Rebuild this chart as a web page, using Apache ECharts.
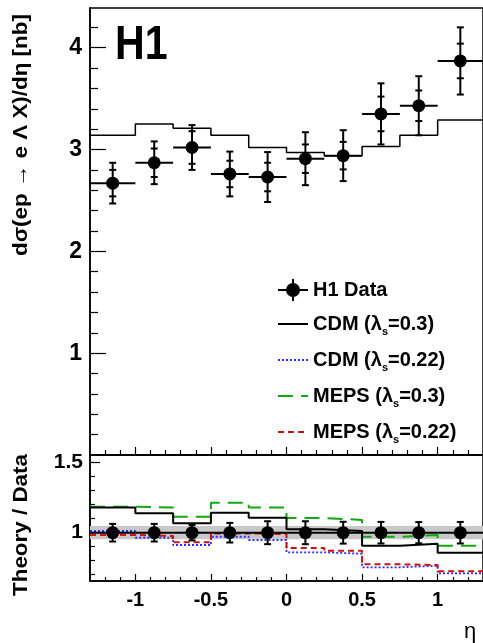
<!DOCTYPE html>
<html><head><meta charset="utf-8">
<script src="https://cdn.jsdelivr.net/npm/echarts@6/dist/echarts.min.js"></script>
<style>html,body{margin:0;padding:0;background:#fff}#c{width:483px;height:643px}</style>
</head><body><div id="c"></div>
<script>
// ---- data ----
const binLow    = [-1.3, -1.0, -0.75, -0.5, -0.25, 0, 0.25, 0.5, 0.75, 1.0];
const binHigh   = [-1.0, -0.75, -0.5, -0.25, 0, 0.25, 0.5, 0.75, 1.0, 1.3];
const etaCenter = [-1.15, -0.875, -0.625, -0.375, -0.125, 0.125, 0.375, 0.625, 0.875, 1.15];
const xsec      = [2.67, 2.87, 3.02, 2.76, 2.73, 2.91, 2.94, 3.35, 3.43, 3.87];
const statErr   = [0.13, 0.14, 0.16, 0.13, 0.14, 0.14, 0.135, 0.17, 0.15, 0.17];
const totErr    = [0.20, 0.21, 0.22, 0.22, 0.245, 0.26, 0.25, 0.30, 0.29, 0.33];
const cdmTop    = [3.14, 3.25, 3.21, 3.14, 3.02, 2.97, 2.94, 3.03, 3.14, 3.29];
const ratioErr  = [0.063, 0.063, 0.055, 0.07, 0.082, 0.082, 0.078, 0.077, 0.076, 0.077];
const bandHalf  = 0.047;
const cdm03     = [1.18, 1.139, 1.067, 1.143, 1.107, 1.024, 1.012, 0.907, 0.921, 0.857];
const cdm022    = [1.012, 0.964, 0.912, 0.971, 0.948, 0.86, 0.85, 0.753, 0.764, 0.71];
const meps03    = [1.186, 1.18, 1.114, 1.214, 1.18, 1.105, 1.091, 0.971, 0.983, 0.907];
const meps022   = [0.984, 0.976, 0.931, 0.995, 0.99, 0.89, 0.871, 0.774, 0.769, 0.724];
const xTickLabels   = [-1, -0.5, 0, 0.5, 1];
const xMinorTicks   = [-1.2,-1.1,-0.9,-0.8,-0.7,-0.6,-0.4,-0.3,-0.2,-0.1,0.1,0.2,0.3,0.4,0.6,0.7,0.8,0.9,1.1,1.2];
const yTopLabels    = [1, 2, 3, 4];
const yTopMinor     = [0.2,0.4,0.6,0.8,1.2,1.4,1.6,1.8,2.2,2.4,2.6,2.8,3.2,3.4,3.6,3.8,4.2];
const yBotLabels    = [1, 1.5];
const yBotMinor     = [0.7,0.8,0.9,1.1,1.2,1.3,1.4];

const NAMES = ['H1 Data', 'CDM (λs=0.3)', 'CDM (λs=0.22)', 'MEPS (λs=0.3)', 'MEPS (λs=0.22)'];
const FONT = 'Liberation Sans, Arial, Helvetica, sans-serif';

function stepData(v) {
  const d = binLow.map((x, i) => [x, v[i]]);
  d.push([binHigh[binHigh.length - 1], v[v.length - 1]]);
  return d;
}
const errData = etaCenter.map((x, i) => [x, binLow[i], binHigh[i], xsec[i],
  xsec[i] - statErr[i], xsec[i] + statErr[i], xsec[i] - totErr[i], xsec[i] + totErr[i]]);
const ratioVal = xsec.map(v => v / v);
const ratioErrData = etaCenter.map((x, i) => [x, binLow[i], binHigh[i], ratioVal[i],
  ratioVal[i], ratioVal[i], ratioVal[i] - ratioErr[i], ratioVal[i] + ratioErr[i]]);

function errRender(withStat) {
  return function (params, api) {
    const x = api.value(0), lo = api.value(1), hi = api.value(2), y = api.value(3);
    const sl = api.value(4), sh = api.value(5), tl = api.value(6), th = api.value(7);
    const pl = api.coord([lo, y]), ph = api.coord([hi, y]);
    const pt = api.coord([x, th]), pb = api.coord([x, tl]);
    const st = { stroke: '#000', lineWidth: 2 };
    const cw = 3.5;
    const ch = [
      { type: 'line', shape: { x1: pl[0], y1: pl[1], x2: ph[0], y2: ph[1] }, style: st },
      { type: 'line', shape: { x1: pt[0], y1: pt[1], x2: pb[0], y2: pb[1] }, style: st },
      { type: 'line', shape: { x1: pt[0] - cw, y1: pt[1], x2: pt[0] + cw, y2: pt[1] }, style: st },
      { type: 'line', shape: { x1: pb[0] - cw, y1: pb[1], x2: pb[0] + cw, y2: pb[1] }, style: st }
    ];
    if (withStat) {
      const s1 = api.coord([x, sh]), s2 = api.coord([x, sl]);
      ch.push({ type: 'line', shape: { x1: s1[0] - cw, y1: s1[1], x2: s1[0] + cw, y2: s1[1] }, style: st });
      ch.push({ type: 'line', shape: { x1: s2[0] - cw, y1: s2[1], x2: s2[0] + cw, y2: s2[1] }, style: st });
    }
    return { type: 'group', children: ch };
  };
}

const chart = echarts.init(document.getElementById('c'), null, { renderer: 'canvas' });

const gridL = 90, gridW = 395;
const XMIN = -1.3, XMAX = 1.3;
const labelStyle = (fs, margin) => ({ fontFamily: FONT, fontWeight: 'bold', fontSize: fs, color: '#000', margin: margin });

function mainX(gi, showLabels, major) {
  return {
    type: 'value', gridIndex: gi, min: XMIN, max: XMAX, position: 'bottom',
    axisLine: { show: true, onZero: false, lineStyle: { color: '#000', width: 1.5 } },
    axisTick: { show: true, inside: true, length: major, customValues: xTickLabels, lineStyle: { color: '#000', width: 1.2 } },
    axisLabel: showLabels ? Object.assign({ show: true, customValues: xTickLabels }, labelStyle(20, 9)) : { show: false },
    splitLine: { show: false }
  };
}
function minorX(gi, len) {
  return {
    type: 'value', gridIndex: gi, min: XMIN, max: XMAX, position: 'bottom',
    axisLine: { show: false, onZero: false },
    axisTick: { show: true, inside: true, length: len, customValues: xMinorTicks, lineStyle: { color: '#000', width: 1.2 } },
    axisLabel: { show: false }, splitLine: { show: false }
  };
}
function mainY(gi, min, max, labels, ticks, fs, margin, len) {
  return {
    type: 'value', gridIndex: gi, min: min, max: max, position: 'left',
    axisLine: { show: true, onZero: false, lineStyle: { color: '#000', width: 1.5 } },
    axisTick: { show: true, inside: true, length: len, customValues: ticks, lineStyle: { color: '#000', width: 1.2 } },
    axisLabel: Object.assign({ show: true, customValues: labels }, labelStyle(fs, margin)),
    splitLine: { show: false }
  };
}
function minorY(gi, min, max, ticks, len) {
  return {
    type: 'value', gridIndex: gi, min: min, max: max, position: 'left',
    axisLine: { show: false, onZero: false },
    axisTick: { show: true, inside: true, length: len, customValues: ticks, lineStyle: { color: '#000', width: 1.2 } },
    axisLabel: { show: false }, splitLine: { show: false }
  };
}

const TOPMIN = 0, TOPMAX = 4.39, BOTMIN = 0.655, BOTMAX = 1.555;

const stepLine = (name, data, color, width, type, xi, yi, z) => ({
  name: name, type: 'line', step: 'end', data: data, xAxisIndex: xi, yAxisIndex: yi,
  symbol: 'none', showSymbol: false, z: z, silent: true, animation: false,
  lineStyle: { color: color, width: width, type: type }, itemStyle: { color: color }
});

const richT = {
  t: { fontFamily: FONT, fontWeight: 'bold', fontSize: 20, color: '#000', lineHeight: 26 },
  s: { fontFamily: FONT, fontWeight: 'bold', fontSize: 11, color: '#000', lineHeight: 11, verticalAlign: 'bottom' }
};
function legendFmt(name) {
  const m = name.match(/^(.*)\(λs(=.*)\)$/);
  if (!m) return '{t|' + name + '}';
  return '{t|' + m[1] + '(λ}{s|s}{t|' + m[2] + ')}';
}
const hideSym = { opacity: 0 };

const option = {
  animation: false,
  backgroundColor: '#fff',
  grid: [
    { left: gridL, width: gridW, top: 8, height: 447, show: true, borderColor: '#000', borderWidth: 1.5, backgroundColor: 'transparent' },
    { left: gridL, width: gridW, top: 455, height: 126, show: true, borderColor: '#000', borderWidth: 1.5, backgroundColor: 'transparent' }
  ],
  xAxis: [ mainX(0, false, 8), minorX(0, 5), mainX(1, true, 7), minorX(1, 4) ],
  yAxis: [
    mainY(0, TOPMIN, TOPMAX, yTopLabels, [1, 2, 3, 4], 23, 8, 16),
    minorY(0, TOPMIN, TOPMAX, yTopMinor, 8),
    mainY(1, BOTMIN, BOTMAX, yBotLabels, [1, 1.5], 21, 7, 10),
    minorY(1, BOTMIN, BOTMAX, yBotMinor, 5)
  ],
  legend: {
    show: true, orient: 'vertical', left: 277, top: 279, padding: 0, itemGap: 13,
    itemWidth: 30, itemHeight: 22, selectedMode: false,
    formatter: legendFmt,
    textStyle: { rich: richT },
    data: [
      { name: NAMES[0], icon: 'path://M0,10 L30,10 L30,12 L0,12 Z M14,0 L16,0 L16,22 L14,22 Z M22,11 A7,7 0 1,1 8,11 A7,7 0 1,1 22,11 Z' },
      { name: NAMES[1], itemStyle: hideSym }, { name: NAMES[2], itemStyle: hideSym },
      { name: NAMES[3], itemStyle: hideSym }, { name: NAMES[4], itemStyle: hideSym }
    ]
  },
  graphic: [
    { type: 'text', x: 115, y: 45, scaleX: 0.84,
      style: { text: 'H1', font: 'bold 49px ' + FONT, fill: '#000', align: 'left', verticalAlign: 'middle' } },
    { type: 'text', x: 21, y: 135, rotation: Math.PI / 2, scaleX: 1.12,
      style: { text: 'dσ(ep → e Λ X)/dη [nb]', font: 'bold 20px ' + FONT, fill: '#000', align: 'center', verticalAlign: 'middle' } },
    { type: 'text', x: 21, y: 525, rotation: Math.PI / 2, scaleX: 1.12,
      style: { text: 'Theory / Data', font: 'bold 20px ' + FONT, fill: '#000', align: 'center', verticalAlign: 'middle' } },
    { type: 'text', x: 470, y: 632, style: { text: 'η', font: '22px ' + FONT, fill: '#000', align: 'center', verticalAlign: 'middle' } }
  ],
  series: [
    stepLine(NAMES[1], stepData(cdmTop), '#000', 1.5, 'solid', 0, 0, 2),
    {
      name: 'errTop', type: 'custom', xAxisIndex: 0, yAxisIndex: 0, renderItem: errRender(true),
      data: errData, encode: { x: [0, 1, 2], y: [3, 6, 7] }, z: 3, silent: true
    },
    {
      name: NAMES[0], type: 'scatter', xAxisIndex: 0, yAxisIndex: 0, symbol: 'circle', symbolSize: 13,
      data: etaCenter.map((x, i) => [x, xsec[i]]), itemStyle: { color: '#000', opacity: 1 }, z: 4, silent: true
    },
    {
      name: 'band', type: 'line', xAxisIndex: 2, yAxisIndex: 2, data: [], silent: true,
      markArea: { silent: true, itemStyle: { color: '#c8c8c8', opacity: 1 },
        data: [[{ yAxis: 1 - bandHalf }, { yAxis: 1 + bandHalf }]] }, z: 1
    },
    stepLine(NAMES[2], stepData(cdm022), '#2b2bff', 1.8, [2, 2], 2, 2, 2),
    stepLine(NAMES[4], stepData(meps022), '#cc1111', 2, [6, 4], 2, 2, 2),
    stepLine(NAMES[3], stepData(meps03), '#11a811', 2, [15, 8], 2, 2, 2),
    stepLine(NAMES[1], stepData(cdm03), '#000', 2, 'solid', 2, 2, 2),
    {
      name: 'errRatio', type: 'custom', xAxisIndex: 2, yAxisIndex: 2, renderItem: errRender(false),
      data: ratioErrData, encode: { x: [0, 1, 2], y: [3, 6, 7] }, z: 3, silent: true
    },
    {
      name: 'ratioPts', type: 'scatter', xAxisIndex: 2, yAxisIndex: 2, symbol: 'circle', symbolSize: 13,
      data: etaCenter.map((x, i) => [x, ratioVal[i]]), itemStyle: { color: '#000', opacity: 1 }, z: 4, silent: true
    }
  ]
};
chart.setOption(option);
</script>
</body></html>
